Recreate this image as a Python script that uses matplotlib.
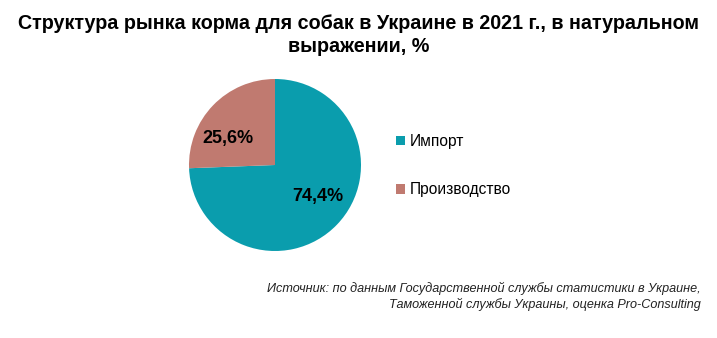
import matplotlib
matplotlib.use("Agg")
import matplotlib.pyplot as plt

plt.rcParams['font.family'] = ['Liberation Sans', 'DejaVu Sans']

# данные
kategorii = ["Импорт", "Производство"]
doli = [74.4, 25.6]
tsveta = ["#0A9DAD", "#C07A70"]
# положение подписей (как в Excel, в долях радиуса)
podpisi_xy = [(0.50, -0.37), (-0.55, 0.31)]

zagolovok = "Структура рынка корма для собак в Украине в 2021 г., в натуральном\nвыражении, %"
istochnik = ("Источник: по данным Государственной службы статистики в Украине,\n"
             "Таможенной службы Украины, оценка Pro-Consulting")

fig = plt.figure(figsize=(7.17, 3.38), dpi=100)

# круг: центр ~ (275,165) px, радиус ~ 86 px
W, H = 717, 338
cx, cy, r = 275, 165, 86
ax = fig.add_axes([(cx - r) / W, (H - cy - r) / H, 2 * r / W, 2 * r / H])
klinya, teksty, pct = ax.pie(doli, colors=tsveta, startangle=90, counterclock=False,
                             autopct=lambda p: ("%.1f%%" % p).replace(".", ","),
                             pctdistance=0.63, radius=1.0,
                             wedgeprops=dict(linewidth=0))
for t, xy in zip(pct, podpisi_xy):
    t.set_position(xy)
    t.set_fontsize(13)
    t.set_fontweight('bold')
    t.set_color('black')
ax.set_xlim(-1, 1)
ax.set_ylim(-1, 1)
ax.set_aspect('equal')

fig.text(0.5, 1 - 35 / H, zagolovok, ha='center', va='center', fontsize=14.2,
         fontweight='bold', linespacing=1.3)

leg = fig.legend(klinya, kategorii, loc='upper left', bbox_to_anchor=(396 / W, 1 - 134 / H),
                 frameon=False, fontsize=11.2, handlelength=0.55, handleheight=0.55,
                 handletextpad=0.35, labelspacing=2.15, borderaxespad=0, borderpad=0)

fig.text(701 / W, 1 - 296.5 / H, istochnik, ha='right', va='center', fontsize=9.1,
         style='italic', linespacing=1.3, color='#222222')

fig.savefig("out.png", dpi=100)
